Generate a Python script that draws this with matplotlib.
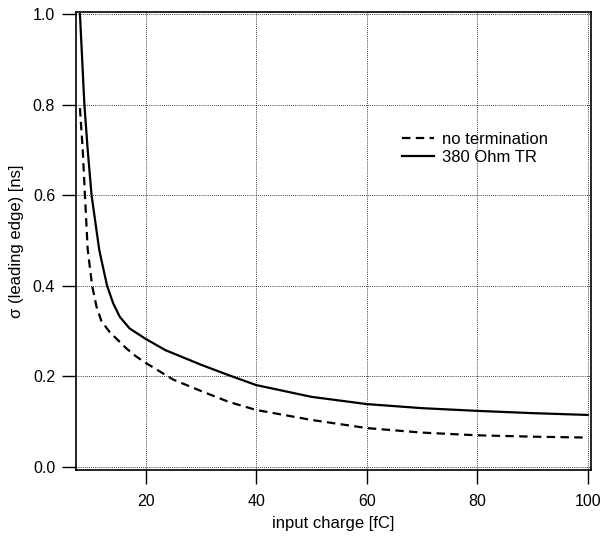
import numpy as np
import matplotlib
matplotlib.use('Agg')
import matplotlib.pyplot as plt

plt.rcParams['font.family'] = ['Liberation Sans', 'DejaVu Sans']

# 380 Ohm termination resistor
q_tr = np.array([8.1, 8.5, 8.9, 9.5, 10.2, 11.6, 13.0, 14.1, 15.3, 17.1,
                 20, 23.6, 25, 30, 35, 40, 50, 60, 70, 80, 90, 100])
sig_tr = np.array([1.0, 0.9, 0.8, 0.7, 0.6, 0.478, 0.40, 0.361, 0.331, 0.305,
                   0.282, 0.257, 0.250, 0.225, 0.202, 0.180, 0.154, 0.138,
                   0.129, 0.123, 0.118, 0.114])

# no termination
q_nt = np.array([8.1, 8.6, 9.0, 9.5, 10.3, 11.1, 12.0, 13.5, 15.0, 16.5,
                 18.3, 20, 25, 30, 35, 40, 50, 60, 70, 80, 90, 100])
sig_nt = np.array([0.792, 0.7, 0.6, 0.48, 0.40, 0.353, 0.321, 0.297, 0.279,
                   0.261, 0.243, 0.229, 0.192, 0.167, 0.143, 0.125, 0.103,
                   0.085, 0.075, 0.069, 0.066, 0.064])

xticks = [20, 40, 60, 80, 100]
yticks = [0.0, 0.2, 0.4, 0.6, 0.8, 1.0]

fig = plt.figure(figsize=(6.02, 5.36), dpi=100)
ax = fig.add_axes([0.1262, 0.1231, 0.8555, 0.8545])

ax.plot(q_nt, sig_nt, color='black', linestyle=(0, (3.8, 2.4)), linewidth=1.6,
        label='no termination')
ax.plot(q_tr, sig_tr, color='black', linestyle='-', linewidth=1.6,
        label='380 Ohm TR')

ax.set_xlim(7.38, 100.6)
ax.set_ylim(-0.0077, 1.0044)
ax.set_xticks(xticks)
ax.set_yticks(yticks)
ax.set_yticklabels(['%.1f' % v for v in yticks])
ax.grid(True, linestyle=(0, (1, 1.5)), color='black', linewidth=0.6)

ax.tick_params(direction='out', length=10, width=1, labelsize=11.5)
ax.tick_params(axis='x', pad=7)
ax.tick_params(axis='y', pad=5)
for s in ax.spines.values():
    s.set_linewidth(1.2)

ax.set_xlabel('input charge [fC]', fontsize=12, labelpad=5)
ax.set_ylabel('σ (leading edge) [ns]', fontsize=12, labelpad=6)

ax.legend(loc='upper left', bbox_to_anchor=(0.633, 0.738), frameon=False,
          fontsize=12, borderpad=0, borderaxespad=0, handlelength=1.9,
          handletextpad=0.5, labelspacing=0.15)

fig.savefig('out.png', dpi=100)
